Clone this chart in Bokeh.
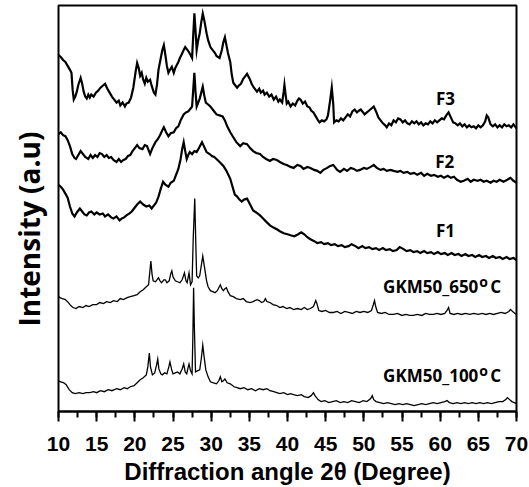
from bokeh.plotting import figure
from bokeh.models import Range1d, SingleIntervalTicker, Label, Title
from bokeh.embed import file_html
from bokeh.resources import INLINE

# ---- data: 2theta (degree) and intensity (a.u., offset-stacked) ----
f3_x = [10.0,10.3,10.6,10.9,11.2,11.5,11.7,11.85,12.0,12.2,12.4,12.6,12.9,13.1,13.3,13.5,13.7,13.9,14.1,14.3,14.6,14.9,15.2,15.5,15.8,16.1,16.4,16.7,17.0,17.3,17.6,17.9,18.1,18.4,18.7,18.9,19.2,19.5,19.8,20.1,20.3,20.5,20.7,20.9,21.1,21.3,21.5,21.7,22.0,22.2,22.5,22.7,22.9,23.1,23.4,23.6,23.8,24.0,24.2,24.4,24.6,24.85,25.1,25.3,25.5,25.7,25.9,26.1,26.4,26.6,26.8,27.0,27.3,27.5,27.65,27.8,27.95,28.1,28.3,28.5,28.7,28.9,29.1,29.4,29.6,29.9,30.2,30.5,30.7,30.9,31.1,31.4,31.6,31.8,32.0,32.2,32.5,32.7,32.9,33.2,33.4,33.6,33.9,34.2,34.5,34.7,34.9,35.1,35.3,35.6,35.8,36.0,36.3,36.5,36.8,37.0,37.3,37.6,37.9,38.2,38.5,38.8,39.0,39.3,39.5,39.6,39.75,39.9,40.1,40.4,40.7,41.0,41.3,41.5,41.7,42.0,42.3,42.6,42.9,43.1,43.4,43.7,44.0,44.2,44.5,44.8,45.1,45.3,45.6,45.8,46.0,46.1,46.4,46.7,47.0,47.3,47.6,47.9,48.2,48.5,48.8,49.1,49.4,49.6,49.9,50.1,50.4,50.7,51.0,51.3,51.6,51.9,52.2,52.5,52.8,53.0,53.3,53.6,53.9,54.2,54.5,54.8,55.1,55.4,55.7,56.0,56.3,56.6,56.9,57.2,57.5,57.8,58.1,58.4,58.7,59.0,59.3,59.6,59.9,60.2,60.5,60.8,61.1,61.4,61.7,62.0,62.3,62.6,62.9,63.2,63.5,63.8,64.1,64.4,64.7,65.0,65.3,65.6,65.9,66.1,66.3,66.6,66.9,67.2,67.5,67.8,68.1,68.4,68.7,69.0,69.3,69.6,69.8,70.0]
f3_y = [360,358,355,353,349,345,342,325,315,318,323,330,337,331,323,318,316,320,317,320,318,322,324,327,329,331,326,322,318,315,312,314,309,312,308,311,312,317,327,343,352,347,339,342,335,331,337,333,335,329,322,320,330,345,357,365,370,360,349,342,345,348,342,347,350,353,357,360,365,368,366,364,360,357,380,402,385,365,375,382,393,402,395,382,375,368,365,362,359,358,357,365,373,378,370,362,353,340,332,329,327,329,331,336,339,341,338,335,331,327,325,323,326,322,324,320,322,318,320,315,318,313,315,312,323,330,320,311,313,308,311,309,314,316,315,311,313,308,307,304,302,298,294,292,294,293,295,299,315,327,310,292,294,293,296,294,297,300,298,303,305,302,304,305,302,300,302,304,306,308,303,297,294,291,289,287,291,289,294,292,296,295,292,294,291,290,293,291,293,290,292,289,291,290,293,291,294,292,294,296,295,299,302,297,292,291,289,291,288,290,287,289,287,288,286,289,287,289,293,299,297,290,288,290,287,289,287,290,288,289,287,290,288,286]

f2_x = [10.0,10.3,10.6,10.9,11.2,11.5,11.8,12.1,12.3,12.6,12.9,13.2,13.5,13.9,14.2,14.5,14.8,15.1,15.4,15.7,16.0,16.3,16.6,16.9,17.2,17.6,17.9,18.2,18.5,18.8,19.1,19.4,19.7,20.0,20.3,20.6,21.0,21.3,21.6,21.8,22.0,22.3,22.7,23.0,23.3,23.6,23.8,24.1,24.4,24.7,25.1,25.4,25.7,26.0,26.4,26.7,27.0,27.3,27.5,27.65,27.8,27.95,28.1,28.3,28.5,28.7,28.9,29.1,29.3,29.6,29.9,30.3,30.7,31.1,31.5,31.8,32.1,32.5,32.9,33.3,33.8,34.2,34.7,35.1,35.5,35.9,36.4,36.8,37.2,37.7,38.1,38.6,39.0,39.5,39.9,40.4,40.8,41.3,41.7,42.1,42.6,43.0,43.5,43.9,44.3,44.7,45.2,45.6,46.0,46.5,46.9,47.4,47.8,48.3,48.7,49.1,49.5,50.0,50.4,50.9,51.3,51.7,52.2,52.6,53.0,53.5,53.9,54.4,54.8,55.2,55.7,56.1,56.6,57.0,57.5,57.9,58.3,58.8,59.2,59.7,60.1,60.5,61.0,61.4,61.8,62.2,62.7,63.1,63.6,64.0,64.4,64.9,65.3,65.7,66.1,66.6,67.0,67.4,67.8,68.3,68.8,69.2,69.6,70.0]
f2_y = [280,282,279,278,274,268,260,256,255,259,263,260,257,255,259,256,259,257,261,260,257,259,256,257,254,252,255,252,254,255,258,259,263,266,269,266,265,269,268,264,260,266,272,275,279,284,287,282,278,281,282,286,288,294,300,302,303,306,308,325,342,323,308,312,316,322,328,319,312,310,308,304,300,299,298,294,288,282,277,272,268,271,270,266,263,261,260,257,255,253,255,254,252,250,249,247,246,249,248,245,247,246,244,243,241,244,246,248,249,244,242,245,243,246,245,243,244,246,245,247,249,246,244,245,243,244,243,242,243,241,242,240,241,239,241,238,240,238,239,237,238,236,238,236,237,234,232,233,235,232,234,233,234,232,233,231,233,232,234,232,234,236,233,231,232,230,231,229]

f1_x = [10.0,10.3,10.6,10.9,11.2,11.5,11.8,12.1,12.4,12.8,13.1,13.4,13.7,14.0,14.3,14.7,15.0,15.4,15.8,16.1,16.5,16.9,17.2,17.6,18.0,18.3,18.6,18.9,19.3,19.6,19.9,20.3,20.7,21.1,21.5,21.9,22.2,22.5,22.8,23.1,23.4,23.7,24.0,24.4,24.7,25.1,25.4,25.7,26.0,26.2,26.4,26.6,26.8,27.0,27.2,27.5,27.8,28.1,28.4,28.8,29.1,29.4,29.8,30.1,30.4,30.7,31.1,31.6,32.0,32.5,32.8,33.1,33.4,33.7,34.0,34.3,34.7,35.1,35.5,35.9,36.4,36.8,37.3,37.7,38.1,38.6,39.0,39.5,40.0,40.4,40.9,41.4,41.8,42.2,42.6,43.0,43.5,43.9,44.4,44.8,45.3,45.7,46.2,46.6,47.1,47.5,48.0,48.4,48.9,49.3,49.8,50.2,50.7,51.1,51.6,52.0,52.5,52.9,53.4,53.8,54.3,54.7,55.2,55.6,56.1,56.5,57.0,57.4,57.9,58.3,58.8,59.2,59.7,60.1,60.6,61.0,61.5,61.9,62.4,62.8,63.3,63.7,64.2,64.6,65.1,65.5,66.0,66.4,66.9,67.3,67.8,68.2,68.7,69.1,69.6,70.0]
f1_y = [229,227,224,220,216,207,200,197,201,205,202,199,198,201,202,199,201,199,200,197,199,196,195,197,193,195,196,198,200,202,205,209,212,209,207,208,205,208,211,217,225,232,229,227,231,233,239,245,255,265,272,263,255,259,262,260,263,262,266,272,267,262,260,258,257,255,252,248,243,235,227,219,217,214,212,214,215,209,203,201,198,195,191,188,186,184,182,180,179,178,177,179,181,179,176,174,172,170,171,169,170,168,169,167,168,166,167,169,167,165,167,165,166,164,165,163,165,163,164,162,163,166,164,162,163,161,162,160,162,160,161,159,161,159,160,158,160,158,159,157,159,157,158,156,158,156,157,155,157,155,156,154,156,154,155,153]

g650_x = [10.0,10.2,10.5,10.9,11.3,11.6,11.9,12.3,12.7,13.2,13.6,14.0,14.5,15.0,15.4,15.9,16.3,16.8,17.2,17.7,18.1,18.5,19.0,19.4,19.9,20.3,20.7,21.1,21.5,21.8,21.95,22.1,22.25,22.4,22.7,23.1,23.3,23.5,23.8,24.0,24.2,24.5,24.7,24.85,25.0,25.3,25.6,25.9,26.2,26.5,26.7,26.85,27.1,27.3,27.5,27.65,27.85,28.0,28.1,28.3,28.5,28.7,28.9,29.1,29.4,29.6,29.9,30.2,30.5,30.8,31.0,31.2,31.4,31.6,31.8,32.0,32.2,32.5,32.9,33.3,33.8,34.2,34.6,35.1,35.5,36.0,36.3,36.6,36.9,37.1,37.3,37.7,38.1,38.6,39.0,39.4,39.9,40.3,40.8,41.3,41.8,42.2,42.6,43.0,43.4,43.7,43.85,44.1,44.5,45.0,45.5,46.0,46.5,47.0,47.5,48.0,48.5,49.0,49.5,50.0,50.5,51.0,51.25,51.4,51.55,51.8,52.3,52.8,53.3,53.9,54.4,55.0,55.5,56.0,56.5,57.0,57.6,58.1,58.6,59.1,59.6,60.1,60.6,60.9,61.1,61.3,61.8,62.3,62.8,63.3,63.9,64.4,65.0,65.5,66.0,66.5,67.0,67.5,68.0,68.5,69.0,69.2,69.5,69.8,70.0]
g650_y = [116,115,114,113,110,107,105,104,106,105,107,106,108,108,110,109,111,110,112,111,114,113,115,116,117,118,121,123,126,128,140,152,139,132,131,135,132,130,133,133,130,132,139,142,136,132,131,130,133,140,132,130,140,128,131,175,215,165,137,135,137,147,157,147,132,126,122,121,120,122,125,128,124,122,124,125,121,117,116,114,113,114,111,110,111,113,112,110,111,114,111,110,108,107,105,106,104,105,103,104,103,105,103,104,106,112,109,102,101,102,100,100,101,99,101,100,99,101,100,101,100,102,108,112,106,100,99,100,98,98,99,97,98,97,97,98,97,99,98,98,99,98,99,102,105,99,98,99,98,99,98,99,98,99,98,99,98,99,100,99,101,103,101,99,98]

g100_x = [10.0,10.3,10.7,11.0,11.4,11.8,12.2,12.7,13.2,13.6,14.1,14.6,15.0,15.5,16.0,16.5,17.0,17.6,18.1,18.6,19.0,19.4,19.9,20.3,20.7,21.1,21.5,21.7,21.9,22.05,22.3,22.6,22.85,23.0,23.15,23.4,23.6,23.9,24.2,24.45,24.6,24.8,25.0,25.3,25.6,25.9,26.2,26.4,26.6,26.8,27.0,27.1,27.3,27.5,27.6,27.7,27.8,27.95,28.2,28.5,28.7,28.9,29.05,29.3,29.6,29.9,30.3,30.7,31.0,31.2,31.4,31.6,31.8,32.1,32.5,33.0,33.4,33.8,34.3,34.8,35.3,35.8,36.3,36.8,37.3,37.7,38.2,38.6,39.0,39.5,40.0,40.4,40.8,41.3,41.8,42.2,42.7,43.1,43.4,43.6,44.0,44.4,44.9,45.4,45.9,46.4,46.9,47.4,47.9,48.4,48.9,49.4,49.9,50.4,50.9,51.1,51.3,51.6,52.1,52.6,53.1,53.6,54.1,54.6,55.1,55.6,56.1,56.6,57.1,57.6,58.1,58.6,59.1,59.6,60.1,60.6,60.9,61.2,61.7,62.2,62.7,63.2,63.7,64.2,64.7,65.2,65.7,66.2,66.7,67.2,67.7,68.2,68.6,68.8,69.1,69.4,69.7,70.0]
g100_y = [31,30,29,27,22,19,18,19,18,19,19,20,19,21,20,22,21,23,22,24,23,25,26,29,32,34,37,45,59,45,37,39,47,53,43,38,37,39,38,45,50,43,38,39,40,38,43,48,40,38,45,48,41,38,75,125,85,40,41,42,53,67,57,42,35,30,29,28,31,35,30,31,33,29,28,25,24,23,24,22,23,21,23,22,23,21,20,19,18,19,17,18,17,16,17,15,14,16,19,16,12,10,11,9,10,11,9,10,9,11,10,9,11,10,13,16,12,10,9,8,9,8,7,8,7,8,7,6,7,8,7,8,9,8,9,10,11,9,8,9,8,9,8,9,8,9,8,9,8,9,10,10,12,14,12,10,9,8]

x_ticks_interval = 5
trace_labels = ["F3", "F2", "F1"]
trace_label_x = [60.7, 60.6, 60.7]
trace_label_y = [316, 252, 183]
gkm_names = ["GKM50_650", "GKM50_100"]
gkm_label_y = [126, 36]
gkm_label_x = 65.0

p = figure(width=529, height=487, x_range=Range1d(10, 70), y_range=Range1d(0, 410),
           output_backend="svg", toolbar_location=None,
           min_border_left=58, min_border_right=13, min_border_top=5, min_border_bottom=72)
p.background_fill_color = "white"
p.border_fill_color = "white"
p.grid.visible = False
p.yaxis.visible = False
p.outline_line_color = "black"
p.outline_line_width = 2

for xs, ys, lw in [(f3_x, f3_y, 2.2), (f2_x, f2_y, 2.2), (f1_x, f1_y, 2.2),
                   (g650_x, g650_y, 1.3), (g100_x, g100_y, 1.3)]:
    p.line(xs, ys, line_color="black", line_width=lw, line_join="miter")

ax = p.xaxis[0]
ax.ticker = SingleIntervalTicker(interval=x_ticks_interval, num_minor_ticks=2)
ax.axis_line_color = "black"
ax.axis_line_width = 2
ax.major_tick_line_width = 2
ax.minor_tick_line_width = 2
ax.major_tick_out = 10
ax.major_tick_in = 0
ax.minor_tick_out = 6
ax.minor_tick_in = 0
ax.major_label_text_font = "Liberation Sans"
ax.major_label_text_font_style = "bold"
ax.major_label_text_font_size = "21px"
ax.major_label_text_color = "black"
ax.major_label_standoff = 15
ax.axis_label = "Diffraction angle 2\u03b8 (Degree)"
ax.axis_label_text_font = "Liberation Sans"
ax.axis_label_text_font_style = "bold"
ax.axis_label_text_font_size = "24px"
ax.axis_label_text_color = "black"
ax.axis_label_standoff = 4

ylab = Title(text="Intensity (a.u)", align="left", vertical_align="top", offset=85,
             standoff=18, text_font="Open Sans", text_font_style="bold",
             text_font_size="28px", text_color="black")
p.add_layout(ylab, "left")

lab_font = "Open Sans"
for t, x, y in zip(trace_labels, trace_label_x, trace_label_y):
    p.add_layout(Label(x=x, y=y, text=t, text_font=lab_font, text_font_style="bold",
                       text_font_size="17px", text_align="center", text_baseline="alphabetic",
                       text_color="black"))
for name, y in zip(gkm_names, gkm_label_y):
    p.add_layout(Label(x=gkm_label_x, y=y, text=name, text_font=lab_font, text_font_style="bold",
                       text_font_size="17px", text_align="right", text_baseline="alphabetic",
                       text_color="black"))
    p.add_layout(Label(x=gkm_label_x, y=y + 5, x_offset=1, text="o", text_font=lab_font,
                       text_font_style="bold", text_font_size="14px", text_align="left",
                       text_baseline="alphabetic", text_color="black"))
    p.add_layout(Label(x=gkm_label_x, y=y, x_offset=12, text="C", text_font=lab_font,
                       text_font_style="bold", text_font_size="17px", text_align="left",
                       text_baseline="alphabetic", text_color="black"))

open("out.html", "w").write(file_html(p, INLINE))
